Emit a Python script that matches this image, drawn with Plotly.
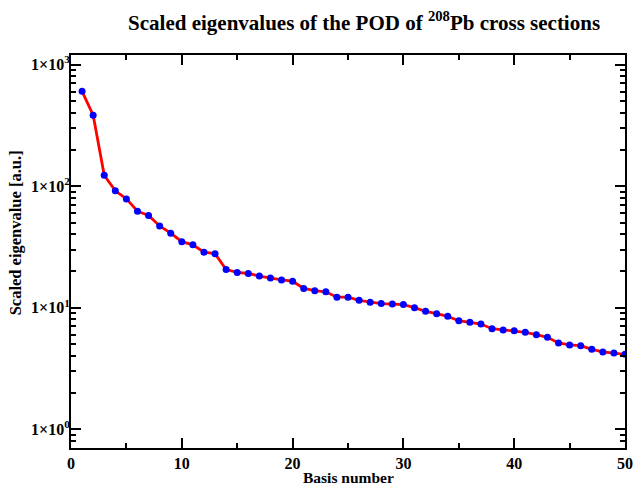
import plotly.graph_objects as go

basis = list(range(1, 51))
eigenvalues = [
    603, 383, 123, 91.5, 78.5, 62.2, 57.3, 47.0, 41.0, 34.9,
    32.9, 28.6, 27.8, 20.6, 19.5, 19.1, 18.2, 17.5, 16.9, 16.5,
    14.4, 13.8, 13.5, 12.2, 12.2, 11.5, 11.1, 10.8, 10.7, 10.6,
    10.0, 9.33, 8.92, 8.48, 7.81, 7.57, 7.33, 6.71, 6.55, 6.46,
    6.27, 5.99, 5.70, 5.12, 4.93, 4.86, 4.54, 4.32, 4.24, 4.13,
]

x_major = [0, 10, 20, 30, 40, 50]
x_minor = [5, 15, 25, 35, 45]
y_major = [1, 10, 100, 1000]
y_major_text = ["1×10<sup>0</sup>", "1×10<sup>1</sup>", "1×10<sup>2</sup>", "1×10<sup>3</sup>"]
y_minor = [0.7, 0.8, 0.9] + [m * 10 ** e for e in range(0, 3) for m in range(2, 10)]

title_text = "Scaled eigenvalues of the POD of <sup>208</sup>Pb cross sections"
x_title = "Basis number"
y_title = "Scaled eigenvalue [a.u.]"

FONT = "Liberation Serif, Times New Roman, serif"

fig = go.Figure()
fig.add_trace(go.Scatter(
    x=basis, y=eigenvalues, mode="lines+markers",
    line=dict(color="#ff0000", width=2.8),
    marker=dict(color="#0000ff", size=7, line=dict(width=0)),
    showlegend=False,
))

fig.update_layout(
    width=641, height=487,
    margin=dict(l=71, r=8, t=55, b=39),
    paper_bgcolor="white", plot_bgcolor="white",
    font=dict(family=FONT, color="black", weight="bold"),
    title=dict(text=title_text, x=0.568, xanchor="center", y=0.953, yanchor="middle",
               font=dict(family=FONT, size=21, color="black", weight="bold")),
    annotations=[
        dict(text=x_title, xref="paper", yref="paper", x=0.5, y=-0.076,
             xanchor="center", yanchor="middle", showarrow=False,
             font=dict(family=FONT, size=15.5, color="black", weight="bold")),
        dict(text=y_title, xref="paper", yref="paper", x=-0.1005, y=0.547,
             xanchor="center", yanchor="middle", textangle=-90, showarrow=False,
             font=dict(family=FONT, size=16.5, color="black", weight="bold")),
    ],
)

fig.update_xaxes(
    range=[0, 50], tickmode="array", tickvals=x_major,
    ticks="inside", ticklen=10, tickwidth=1.5, tickcolor="black",
    showline=True, linewidth=2, linecolor="black", mirror="ticks",
    showgrid=False, zeroline=False,
    tickfont=dict(family=FONT, size=16, color="black", weight="bold"),
    minor=dict(tickmode="array", tickvals=x_minor, ticks="inside", ticklen=5,
               tickwidth=1.5, tickcolor="black", showgrid=False),
)

fig.update_yaxes(
    type="log", range=[-0.155, 3.079],
    tickmode="array", tickvals=y_major, ticktext=y_major_text,
    ticks="inside", ticklen=10, tickwidth=1.5, tickcolor="black",
    showline=True, linewidth=2, linecolor="black", mirror="ticks",
    showgrid=False, zeroline=False, ticklabelstandoff=-4,
    tickfont=dict(family=FONT, size=16, color="black", weight="bold"),
    minor=dict(tickmode="array", tickvals=y_minor, ticks="inside", ticklen=5,
               tickwidth=1.5, tickcolor="black", showgrid=False),
)

fig.write_html("out.html")
